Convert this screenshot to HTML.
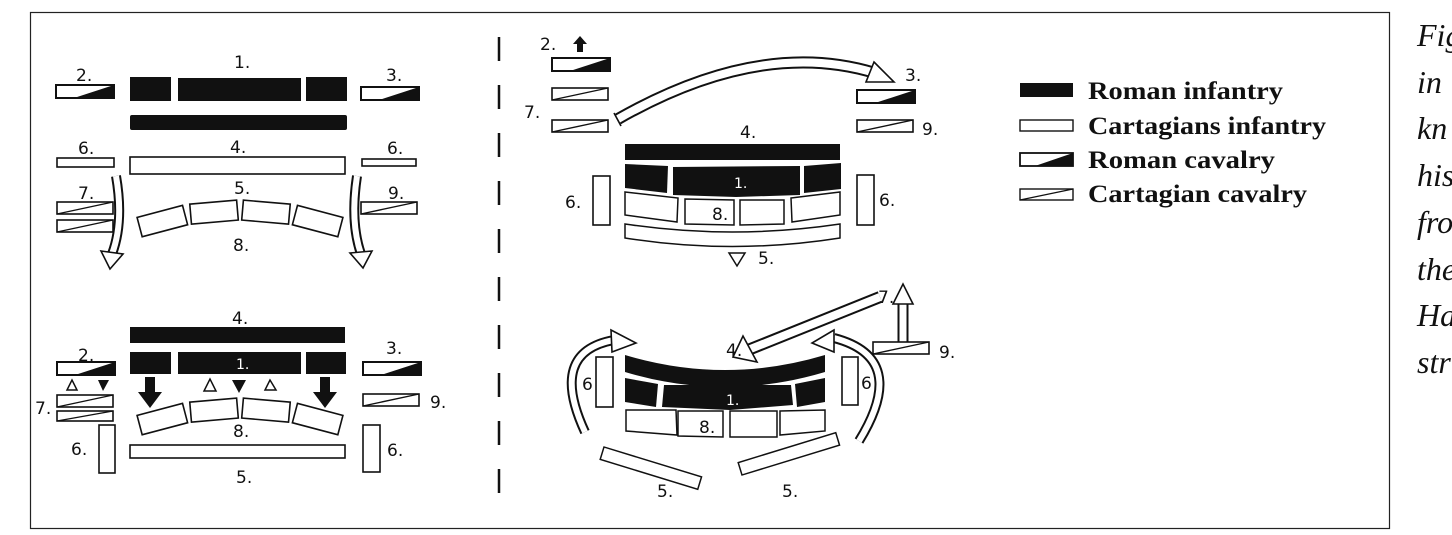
<!DOCTYPE html>
<html><head><meta charset="utf-8"><style>
html,body{margin:0;padding:0;background:#fff;width:1452px;height:535px;overflow:hidden}
svg{display:block}
.n{font-family:"DejaVu Sans","Liberation Sans",sans-serif;font-size:17px;fill:#111}
.w{font-family:"DejaVu Sans","Liberation Sans",sans-serif;font-size:14px;fill:#fff}
.lg{font-family:"Liberation Serif",serif;font-weight:bold;font-size:25px;fill:#111}
.it{font-family:"Liberation Serif",serif;font-style:italic;font-size:32px;fill:#111}
</style></head><body>
<svg width="1452" height="535" viewBox="0 0 1452 535" xmlns="http://www.w3.org/2000/svg">
<defs>
<g id="rc"><rect x="0" y="0" width="58" height="13" fill="#fff" stroke="#111" stroke-width="2"/><polygon points="18,13 58,0 58,13" fill="#111"/></g>
<g id="cc"><rect x="0" y="0" width="56" height="12" fill="#fff" stroke="#111" stroke-width="1.6"/><line x1="0" y1="12" x2="56" y2="0" stroke="#111" stroke-width="1.4"/></g>
</defs>
<rect x="30.5" y="12.5" width="1359" height="516" fill="none" stroke="#222" stroke-width="1.2"/>
<line x1="499" y1="37" x2="499" y2="505" stroke="#111" stroke-width="2.5" stroke-dasharray="24,24"/>

<!-- ===== top-left ===== -->
<text class="n" x="234" y="68">1.</text>
<text class="n" x="76" y="81">2.</text>
<text class="n" x="386" y="81">3.</text>
<use href="#rc" x="56" y="85"/>
<use href="#rc" x="361" y="87"/>
<rect x="130" y="77" width="41" height="24" fill="#111"/>
<rect x="178" y="78" width="123" height="23" fill="#111"/>
<rect x="306" y="77" width="41" height="24" fill="#111"/>
<rect x="130" y="115" width="217" height="15" rx="2" fill="#111"/>
<text class="n" x="78" y="154">6.</text>
<text class="n" x="230" y="153">4.</text>
<text class="n" x="387" y="154">6.</text>
<rect x="57" y="158" width="57" height="9" fill="#fff" stroke="#111" stroke-width="1.6"/>
<rect x="130" y="157" width="215" height="17" fill="#fff" stroke="#111" stroke-width="1.6"/>
<rect x="362" y="159" width="54" height="7" fill="#fff" stroke="#111" stroke-width="1.6"/>
<text class="n" x="234" y="194">5.</text>
<text class="n" x="78" y="199">7.</text>
<text class="n" x="388" y="199">9.</text>
<use href="#cc" x="57" y="202"/>
<use href="#cc" x="57" y="220"/>
<use href="#cc" x="361" y="202"/>
<g fill="#fff" stroke="#111" stroke-width="1.6">
<rect x="216.5" y="201" width="47" height="20" transform="rotate(-14.8 240 515)"/>
<rect x="216.5" y="201" width="47" height="20" transform="rotate(-4.9 240 515)"/>
<rect x="216.5" y="201" width="47" height="20" transform="rotate(4.9 240 515)"/>
<rect x="216.5" y="201" width="47" height="20" transform="rotate(14.8 240 515)"/>
</g>
<text class="n" x="233" y="251">8.</text>
<g fill="none" stroke-linecap="butt">
<path d="M116,176 Q124,222 112,254" stroke="#111" stroke-width="10"/>
<path d="M116,176 Q124,222 112,254" stroke="#fff" stroke-width="6"/>
<path d="M357,176 Q350,222 361,254" stroke="#111" stroke-width="10"/>
<path d="M357,176 Q350,222 361,254" stroke="#fff" stroke-width="6"/>
</g>
<polygon points="101,251 123,254 110,269" fill="#fff" stroke="#111" stroke-width="1.6"/>
<polygon points="350,253 372,251 363,268" fill="#fff" stroke="#111" stroke-width="1.6"/>

<!-- ===== bottom-left ===== -->
<text class="n" x="232" y="324">4.</text>
<rect x="130" y="327" width="215" height="16" fill="#111"/>
<text class="n" x="78" y="361">2.</text>
<text class="n" x="386" y="354">3.</text>
<use href="#rc" x="57" y="362"/>
<use href="#rc" x="363" y="362"/>
<rect x="130" y="352" width="41" height="22" fill="#111"/>
<rect x="178" y="352" width="123" height="22" fill="#111"/>
<rect x="306" y="352" width="40" height="22" fill="#111"/>
<text class="w" x="236" y="369">1.</text>
<polygon points="67,390 77,390 72,380" fill="#fff" stroke="#111" stroke-width="1.5"/>
<polygon points="98,380 109,380 103,391" fill="#111"/>
<polygon points="204,391 216,391 210,379" fill="#fff" stroke="#111" stroke-width="1.5"/>
<polygon points="232,380 246,380 239,393" fill="#111"/>
<polygon points="265,390 276,390 270,380" fill="#fff" stroke="#111" stroke-width="1.5"/>
<polygon points="145,377 155,377 155,392 162,392 150,408 138,392 145,392" fill="#111"/>
<polygon points="320,377 330,377 330,392 337,392 325,408 313,392 320,392" fill="#111"/>
<text class="n" x="35" y="414">7.</text>
<use href="#cc" x="57" y="395"/>
<rect x="57" y="411" width="56" height="10" fill="#fff" stroke="#111" stroke-width="1.6"/>
<line x1="57" y1="421" x2="113" y2="411" stroke="#111" stroke-width="1.3"/>
<use href="#cc" x="363" y="394"/>
<text class="n" x="430" y="408">9.</text>
<g fill="#fff" stroke="#111" stroke-width="1.6">
<rect x="216.5" y="399" width="47" height="20" transform="rotate(-14.8 240 713)"/>
<rect x="216.5" y="399" width="47" height="20" transform="rotate(-4.9 240 713)"/>
<rect x="216.5" y="399" width="47" height="20" transform="rotate(4.9 240 713)"/>
<rect x="216.5" y="399" width="47" height="20" transform="rotate(14.8 240 713)"/>
</g>
<text class="n" x="233" y="437">8.</text>
<rect x="130" y="445" width="215" height="13" fill="#fff" stroke="#111" stroke-width="1.6"/>
<text class="n" x="236" y="483">5.</text>
<text class="n" x="71" y="455">6.</text>
<rect x="99" y="425" width="16" height="48" fill="#fff" stroke="#111" stroke-width="1.6"/>
<text class="n" x="387" y="456">6.</text>
<rect x="363" y="425" width="17" height="47" fill="#fff" stroke="#111" stroke-width="1.6"/>

<!-- ===== top-right ===== -->
<text class="n" x="540" y="50">2.</text>
<polygon points="577,52 583,52 583,44 587,44 580,36 573,44 577,44" fill="#111"/>
<use href="#rc" x="552" y="58"/>
<use href="#cc" x="552" y="88"/>
<use href="#cc" x="552" y="120"/>
<text class="n" x="524" y="118">7.</text>
<g fill="none">
<path d="M618,119 Q760,38 875,73" stroke="#111" stroke-width="12"/>
<path d="M618,119 Q760,38 875,73" stroke="#fff" stroke-width="8"/>
</g>
<line x1="614" y1="113" x2="621" y2="126" stroke="#111" stroke-width="1.6"/>
<polygon points="874,62 894,82 866,82" fill="#fff" stroke="#111" stroke-width="1.6"/>
<text class="n" x="905" y="81">3.</text>
<use href="#rc" x="857" y="90"/>
<use href="#cc" x="857" y="120"/>
<text class="n" x="922" y="135">9.</text>
<text class="n" x="740" y="138">4.</text>
<rect x="625" y="144" width="215" height="16" fill="#111"/>
<g fill="#111">
<polygon points="625,164 668,166 667,193 625,188"/>
<polygon points="673,167 800,166 800,195 736,197 673,195"/>
<polygon points="804,166 841,163 841,189 804,193"/>
</g>
<text class="w" x="734" y="188">1.</text>
<g fill="#fff" stroke="#111" stroke-width="1.5">
<polygon points="625,192 678,198 677,222 625,215"/>
<polygon points="685,199 734,200 734,225 685,224"/>
<polygon points="740,200 784,200 784,224 740,225"/>
<polygon points="791,198 840,192 840,215 792,222"/>
</g>
<text class="n" x="712" y="220">8.</text>
<path d="M625,224 Q732,240 840,224 L840,238 Q732,255 625,238 Z" fill="#fff" stroke="#111" stroke-width="1.5"/>
<polygon points="729,253 745,253 737,266" fill="#fff" stroke="#111" stroke-width="1.5"/>
<text class="n" x="758" y="264">5.</text>
<rect x="593" y="176" width="17" height="49" fill="#fff" stroke="#111" stroke-width="1.6"/>
<text class="n" x="565" y="208">6.</text>
<rect x="857" y="175" width="17" height="50" fill="#fff" stroke="#111" stroke-width="1.6"/>
<text class="n" x="879" y="206">6.</text>

<!-- ===== bottom-right ===== -->
<path d="M625,355 Q725,385 825,355 L825,372 Q725,402 625,372 Z" fill="#111"/>
<g fill="#111">
<polygon points="625,378 658,384 656,407 625,402"/>
<polygon points="664,385 791,385 793,405 730,410 662,407"/>
<polygon points="795,384 825,378 825,402 797,407"/>
</g>
<text class="w" x="726" y="405">1.</text>
<g fill="#fff" stroke="#111" stroke-width="1.5">
<polygon points="626,410 676,410 677,435 626,431"/>
<polygon points="678,411 723,411 723,437 678,436"/>
<polygon points="730,411 777,411 777,437 730,437"/>
<polygon points="780,411 825,410 825,431 780,435"/>
</g>
<text class="n" x="699" y="433">8.</text>
<rect x="604" y="447" width="102" height="13" fill="#fff" stroke="#111" stroke-width="1.5" transform="rotate(17 604 447)"/>
<rect x="742" y="462" width="102" height="13" fill="#fff" stroke="#111" stroke-width="1.5" transform="rotate(-17 742 475)"/>
<text class="n" x="657" y="497">5.</text>
<text class="n" x="782" y="497">5.</text>
<rect x="596" y="357" width="17" height="50" fill="#fff" stroke="#111" stroke-width="1.6"/>
<text class="n" x="582" y="390">6</text>
<rect x="842" y="357" width="16" height="48" fill="#fff" stroke="#111" stroke-width="1.6"/>
<text class="n" x="861" y="389">6</text>
<g fill="none">
<path d="M585,432 Q548,352 614,340" stroke="#111" stroke-width="10"/>
<path d="M585,432 Q548,352 614,340" stroke="#fff" stroke-width="6"/>
<path d="M859,441 Q910,358 834,338" stroke="#111" stroke-width="10"/>
<path d="M859,441 Q910,358 834,338" stroke="#fff" stroke-width="6"/>
<path d="M880,297 L748,350" stroke="#111" stroke-width="12"/>
<path d="M880,297 L748,350" stroke="#fff" stroke-width="8"/>
<path d="M903,342 L903,302" stroke="#111" stroke-width="11"/>
<path d="M903,342 L903,302" stroke="#fff" stroke-width="7"/>
</g>
<polygon points="611,330 636,343 612,352" fill="#fff" stroke="#111" stroke-width="1.6"/>
<polygon points="834,330 812,343 834,352" fill="#fff" stroke="#111" stroke-width="1.6"/>
<polygon points="733,357 743,336 757,362" fill="#fff" stroke="#111" stroke-width="1.6"/>
<polygon points="893,304 913,304 903,284" fill="#fff" stroke="#111" stroke-width="1.6"/>
<text class="n" x="726" y="356">4.</text>
<text class="n" x="878" y="303">7.</text>
<use href="#cc" x="873" y="342"/>
<text class="n" x="939" y="358">9.</text>

<!-- legend -->
<rect x="1020" y="83" width="53" height="14" fill="#111"/>
<text class="lg" x="1088" y="99" textLength="195" lengthAdjust="spacingAndGlyphs">Roman infantry</text>
<rect x="1020" y="120" width="53" height="11" fill="#fff" stroke="#111" stroke-width="1.4"/>
<text class="lg" x="1088" y="134" textLength="238" lengthAdjust="spacingAndGlyphs">Cartagians infantry</text>
<rect x="1020" y="153" width="53" height="13" fill="#fff" stroke="#111" stroke-width="1.8"/>
<polygon points="1035,166 1073,153 1073,166" fill="#111"/>
<text class="lg" x="1088" y="168" textLength="187" lengthAdjust="spacingAndGlyphs">Roman cavalry</text>
<rect x="1020" y="189" width="53" height="11" fill="#fff" stroke="#111" stroke-width="1.4"/>
<line x1="1020" y1="200" x2="1073" y2="189" stroke="#111" stroke-width="1.2"/>
<text class="lg" x="1088" y="202" textLength="219" lengthAdjust="spacingAndGlyphs">Cartagian cavalry</text>

<!-- right text -->
<text class="it" x="1417" y="46">Fig</text>
<text class="it" x="1417" y="93">in</text>
<text class="it" x="1417" y="139">kn</text>
<text class="it" x="1417" y="186">his</text>
<text class="it" x="1417" y="233">fro</text>
<text class="it" x="1417" y="280">the</text>
<text class="it" x="1417" y="326">Ha</text>
<text class="it" x="1417" y="373">str</text>
</svg>
</body></html>
